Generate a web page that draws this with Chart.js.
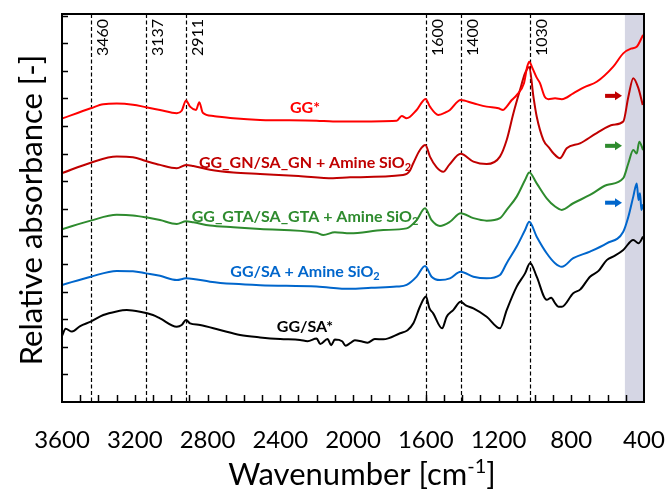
<!DOCTYPE html>
<html><head><meta charset="utf-8">
<script src="https://cdn.jsdelivr.net/npm/chart.js@4.4.0/dist/chart.umd.min.js"></script>
<style>html,body{margin:0;padding:0;background:#fff;overflow:hidden}canvas{display:block}</style>
</head><body>
<canvas id="c" width="667" height="489"></canvas>
<script>
// ---- data ----
const wnGG  = [3600,3442,3373,3299,3210,3138,3061,2969,2942,2918,2896,2863,2845,2826,2768,2658,2511,2200,2110,2016,1760,1732,1705,1650,1601,1577,1531,1485,1467,1408,1338,1265,1200,1175,1155,1127,1100,1060,1042,1031,1017,990,972,946,926,889,852,789,730,660,569,514,472,440,405];
const absGG = [102.7,106.4,107.9,108.1,107.7,106.8,105.8,104.6,105.5,109.2,107.0,105.8,108.6,104.8,103.6,102.8,102.2,101.9,101.6,101.6,101.9,103.6,102.8,105.8,109.8,107.0,104.0,105.1,105.8,109.4,108.2,107.0,106.4,105.8,107.0,109.4,111.2,115.5,121.5,123.3,121.5,117.5,115.5,110.6,109.7,110.0,109.7,111.8,114.0,116.0,121.5,126.3,128.0,128.7,133.0];

const wnGN  = [3600,3442,3299,3210,3138,3061,2969,2918,2878,2786,2658,2511,2300,2110,2016,1725,1690,1668,1632,1602,1577,1540,1504,1470,1408,1338,1265,1192,1155,1118,1082,1054,1031,1008,990,953,920,898,862,825,752,660,569,514,486,459,431,407];
const absGN = [82.9,86.7,88.9,88.7,87.3,85.9,84.7,85.9,85.5,84.1,83.1,82.6,81.9,81.1,81.4,82.2,83.5,86.6,91.3,93.1,88.9,85.0,83.4,86.0,89.9,87.1,86.2,88.9,94.9,104.6,113.0,119.1,121.4,110.6,103.4,94.9,92.0,90.1,88.3,91.9,93.7,97.4,100.4,101.6,110.6,117.3,113.7,107.6];

const wnGTA  = [3600,3442,3299,3210,3138,3061,2969,2918,2878,2786,2658,2511,2200,2163,2100,2016,1833,1705,1650,1604,1568,1522,1467,1408,1338,1265,1192,1155,1100,1054,1031,990,935,889,852,789,697,605,514,486,459,440,426,405];
const absGTA = [62.6,65.7,67.8,67.6,66.9,65.9,64.5,65.5,65.1,63.9,63.3,62.7,61.3,60.5,61.5,61.1,62.3,62.9,65.9,70.2,65.9,63.8,65.3,68.4,66.6,65.7,66.6,69.6,74.4,80.4,83.1,79.2,73.8,70.8,69.6,72.0,75.0,78.6,81.1,86.5,91.3,90.0,94.3,91.3];

const wnSAAm  = [3600,3442,3299,3210,3138,3061,2969,2918,2878,2786,2658,2511,2200,2016,1900,1760,1705,1650,1604,1568,1522,1467,1408,1338,1265,1192,1155,1100,1054,1031,990,935,889,852,789,697,605,514,486,459,440,430,422,414,405];
const absSAAm = [42.4,45.4,47.5,47.4,46.6,45.7,44.2,44.8,44.6,43.6,42.8,42.3,41.8,41.0,41.4,41.8,42.4,45.4,49.3,45.4,44.2,44.8,47.2,45.4,44.8,46.0,50.3,56.3,62.3,65.3,59.9,53.9,50.3,49.0,52.1,54.5,57.5,61.7,67.1,74.4,79.2,73.2,75.6,69.6,71.6];

const wnSA  = [3600,3580,3545,3500,3442,3373,3300,3244,3171,3100,3061,2969,2942,2918,2896,2841,2731,2621,2511,2400,2291,2250,2200,2180,2140,2120,2100,2060,2040,2016,1990,1950,1920,1880,1833,1741,1700,1668,1632,1599,1580,1559,1510,1485,1449,1408,1380,1338,1265,1192,1155,1100,1054,1026,990,935,910,889,870,852,789,750,697,650,605,560,514,459,430,405];
const absSA = [23.9,26.5,25.5,27.5,29.1,31.5,32.8,33.3,32.7,31.5,30.3,27.3,27.9,29.7,28.5,27.9,26.1,24.3,23.4,22.8,22.5,22.0,23.0,21.0,22.8,20.6,22.6,22.0,20.4,21.3,22.4,21.9,21.5,22.8,22.7,24.9,26.0,28.5,34.5,38.2,34.0,32.1,26.7,30.9,33.3,36.3,35.0,33.9,30.9,26.7,33.3,41.8,46.6,50.4,45.4,37.0,37.8,35.8,34.5,34.5,39.4,40.8,45.4,47.5,51.4,53.0,55.1,58.7,57.5,59.9];

const seriesColors = ['#ff0000','#c00000','#2e8b2e','#0066cc','#000000'];
const labelMain = ['GG*','GG_GN/SA_GN + Amine SiO','GG_GTA/SA_GTA + Amine SiO','GG/SA + Amine SiO','GG/SA*'];
const labelSub  = ['','2','2','2',''];
const labelBase = [104.6,84.7,65.3,45.4,25.5];   // label baselines (y units)
const labelCenterWn = 2264;

const markerPos    = [3443,3137,2916,1600,1406,1028];
const markerLabels = ['3460','3137','2911','1600','1400','1030'];

const xTickLabels = [3600,3200,2800,2400,2000,1600,1200,800,400];
const yTickValues = [0,10,20,30,40,50,60,70,80,90,100,110,120,130,140];

const shadeFrom = 505, shadeTo = 400;
const arrowFrom = 614, arrowTo = 521;
const arrowVals = [110.9, 92.8, 72.2];
const arrowColors = ['#c00000','#2e8b2e','#0066cc'];

// ---- chart ----
Chart.defaults.font.family = 'Lato';
const pairs = (w,a) => w.map((v,i)=>({x:v,y:a[i]}));
const allData = [[wnGG,absGG],[wnGN,absGN],[wnGTA,absGTA],[wnSAAm,absSAAm],[wnSA,absSA]];

const overlay = {
  id:'overlay',
  beforeDatasetsDraw(chart){
    const {ctx, chartArea:a, scales:{x}} = chart;
    ctx.save();
    const s0 = x.getPixelForValue(shadeFrom), s1 = x.getPixelForValue(shadeTo);
    ctx.fillStyle = '#d5d6e4';
    ctx.fillRect(s0, a.top, s1-s0, a.bottom-a.top);
    ctx.strokeStyle = '#000'; ctx.lineWidth = 1.2; ctx.setLineDash([4,2.5]);
    markerPos.forEach(w => {
      const px = Math.round(x.getPixelForValue(w)) + 0.5;
      ctx.beginPath(); ctx.moveTo(px, a.top); ctx.lineTo(px, a.bottom); ctx.stroke();
    });
    ctx.setLineDash([]);
    ctx.fillStyle = '#000'; ctx.font = '16px Lato';
    markerPos.forEach((w,i) => {
      const px = x.getPixelForValue(w);
      ctx.save(); ctx.translate(px + 17, a.top + 5); ctx.rotate(-Math.PI/2);
      ctx.textAlign = 'right'; ctx.textBaseline = 'alphabetic';
      ctx.fillText(markerLabels[i], 0, 0); ctx.restore();
    });
    ctx.restore();
  },
  afterDatasetsDraw(chart){
    const {ctx, chartArea:a, scales:{x,y}} = chart;
    ctx.save();
    // inward tick marks
    ctx.strokeStyle = '#000'; ctx.lineWidth = 1.5;
    x.ticks.forEach(t => {
      if (t.value <= x.min || t.value >= x.max) return;
      const px = Math.round(x.getPixelForValue(t.value)) + 0.5;
      ctx.beginPath(); ctx.moveTo(px, a.bottom); ctx.lineTo(px, a.bottom - 7); ctx.stroke();
    });
    y.ticks.forEach(t => {
      if (t.value <= y.min) return;
      const py = Math.round(y.getPixelForValue(t.value)) + 0.5;
      ctx.beginPath(); ctx.moveTo(a.left, py); ctx.lineTo(a.left + 6, py); ctx.stroke();
    });
    // frame
    ctx.lineWidth = 2; ctx.strokeStyle = '#000';
    ctx.strokeRect(a.left, a.top, a.right - a.left, a.bottom - a.top);
    // series labels
    const cx = x.getPixelForValue(labelCenterWn);
    labelMain.forEach((m,i) => {
      const size = 16, ss = 11;
      ctx.font = `bold ${size}px Lato`; const w1 = ctx.measureText(m).width;
      ctx.font = `bold ${ss}px Lato`; const w2 = labelSub[i] ? ctx.measureText(labelSub[i]).width : 0;
      const left = cx - (w1 + w2)/2, by = y.getPixelForValue(labelBase[i]);
      ctx.fillStyle = seriesColors[i]; ctx.textAlign = 'left'; ctx.textBaseline = 'alphabetic';
      ctx.font = `bold ${size}px Lato`; ctx.fillText(m, left, by);
      if (labelSub[i]) { ctx.font = `bold ${ss}px Lato`; ctx.fillText(labelSub[i], left + w1, by + 3); }
    });
    // arrows
    const ax0 = x.getPixelForValue(arrowFrom), ax1 = x.getPixelForValue(arrowTo);
    arrowVals.forEach((v,i) => {
      const py = y.getPixelForValue(v);
      ctx.fillStyle = arrowColors[i];
      ctx.fillRect(ax0, py - 2, (ax1 - 6) - ax0, 4);
      ctx.beginPath(); ctx.moveTo(ax1 - 7, py - 4.5); ctx.lineTo(ax1, py); ctx.lineTo(ax1 - 7, py + 4.5); ctx.closePath(); ctx.fill();
    });
    // axis titles
    ctx.fillStyle = '#000'; ctx.textBaseline = 'alphabetic'; ctx.textAlign = 'left';
    const t1 = 'Wavenumber [cm', t2 = '-1', t3 = ']';
    ctx.font = '31px Lato'; const w1 = ctx.measureText(t1).width, w3 = ctx.measureText(t3).width;
    ctx.font = '20px Lato'; const w2 = ctx.measureText(t2).width;
    let lx = 362 - (w1 + w2 + w3)/2; const by = 485;
    ctx.font = '31px Lato'; ctx.fillText(t1, lx, by);
    ctx.font = '20px Lato'; ctx.fillText(t2, lx + w1, by - 12);
    ctx.font = '31px Lato'; ctx.fillText(t3, lx + w1 + w2, by);
    ctx.save(); ctx.translate(42, 210); ctx.rotate(-Math.PI/2);
    ctx.textAlign = 'center'; ctx.font = '31px Lato';
    ctx.fillText('Relative absorbance [-]', 0, 0); ctx.restore();
    ctx.restore();
  }
};

new Chart(document.getElementById('c'), {
  type: 'line',
  data: {
    datasets: allData.map((d,i) => ({
      label: labelMain[i] + labelSub[i],
      data: pairs(d[0], d[1]),
      borderColor: seriesColors[i],
      borderWidth: 2,
      pointRadius: 0,
      cubicInterpolationMode: 'monotone',
      fill: false
    }))
  },
  options: {
    responsive: false, animation: false, devicePixelRatio: 1,
    layout: { padding: { left: 62, top: 14, right: 23, bottom: 0 } },
    plugins: { legend: { display: false }, tooltip: { enabled: false } },
    scales: {
      x: {
        type: 'linear', reverse: true, min: 400, max: 3600, position: 'bottom',
        grid: { display: false, drawTicks: false }, border: { display: false },
        ticks: {
          stepSize: 100, autoSkip: false, maxRotation: 0, minRotation: 0,
          color: '#000', padding: 24, font: { family: 'Lato', size: 24 },
          callback: v => xTickLabels.includes(v) ? String(v) : ''
        },
        afterFit: s => { s.height = 87; s.paddingLeft = 0; s.paddingRight = 0; s.paddingTop = 0; s.paddingBottom = 0; }
      },
      y: {
        min: 0, max: 140.56,
        grid: { display: false, drawTicks: false }, border: { display: false },
        ticks: { display: false, padding: 0 },
        afterBuildTicks: s => { s.ticks = yTickValues.map(v => ({ value: v })); },
        afterFit: s => { s.width = 0; s.paddingLeft = 0; s.paddingRight = 0; s.paddingTop = 0; s.paddingBottom = 0; }
      }
    }
  },
  plugins: [overlay]
});
</script>
</body></html>
